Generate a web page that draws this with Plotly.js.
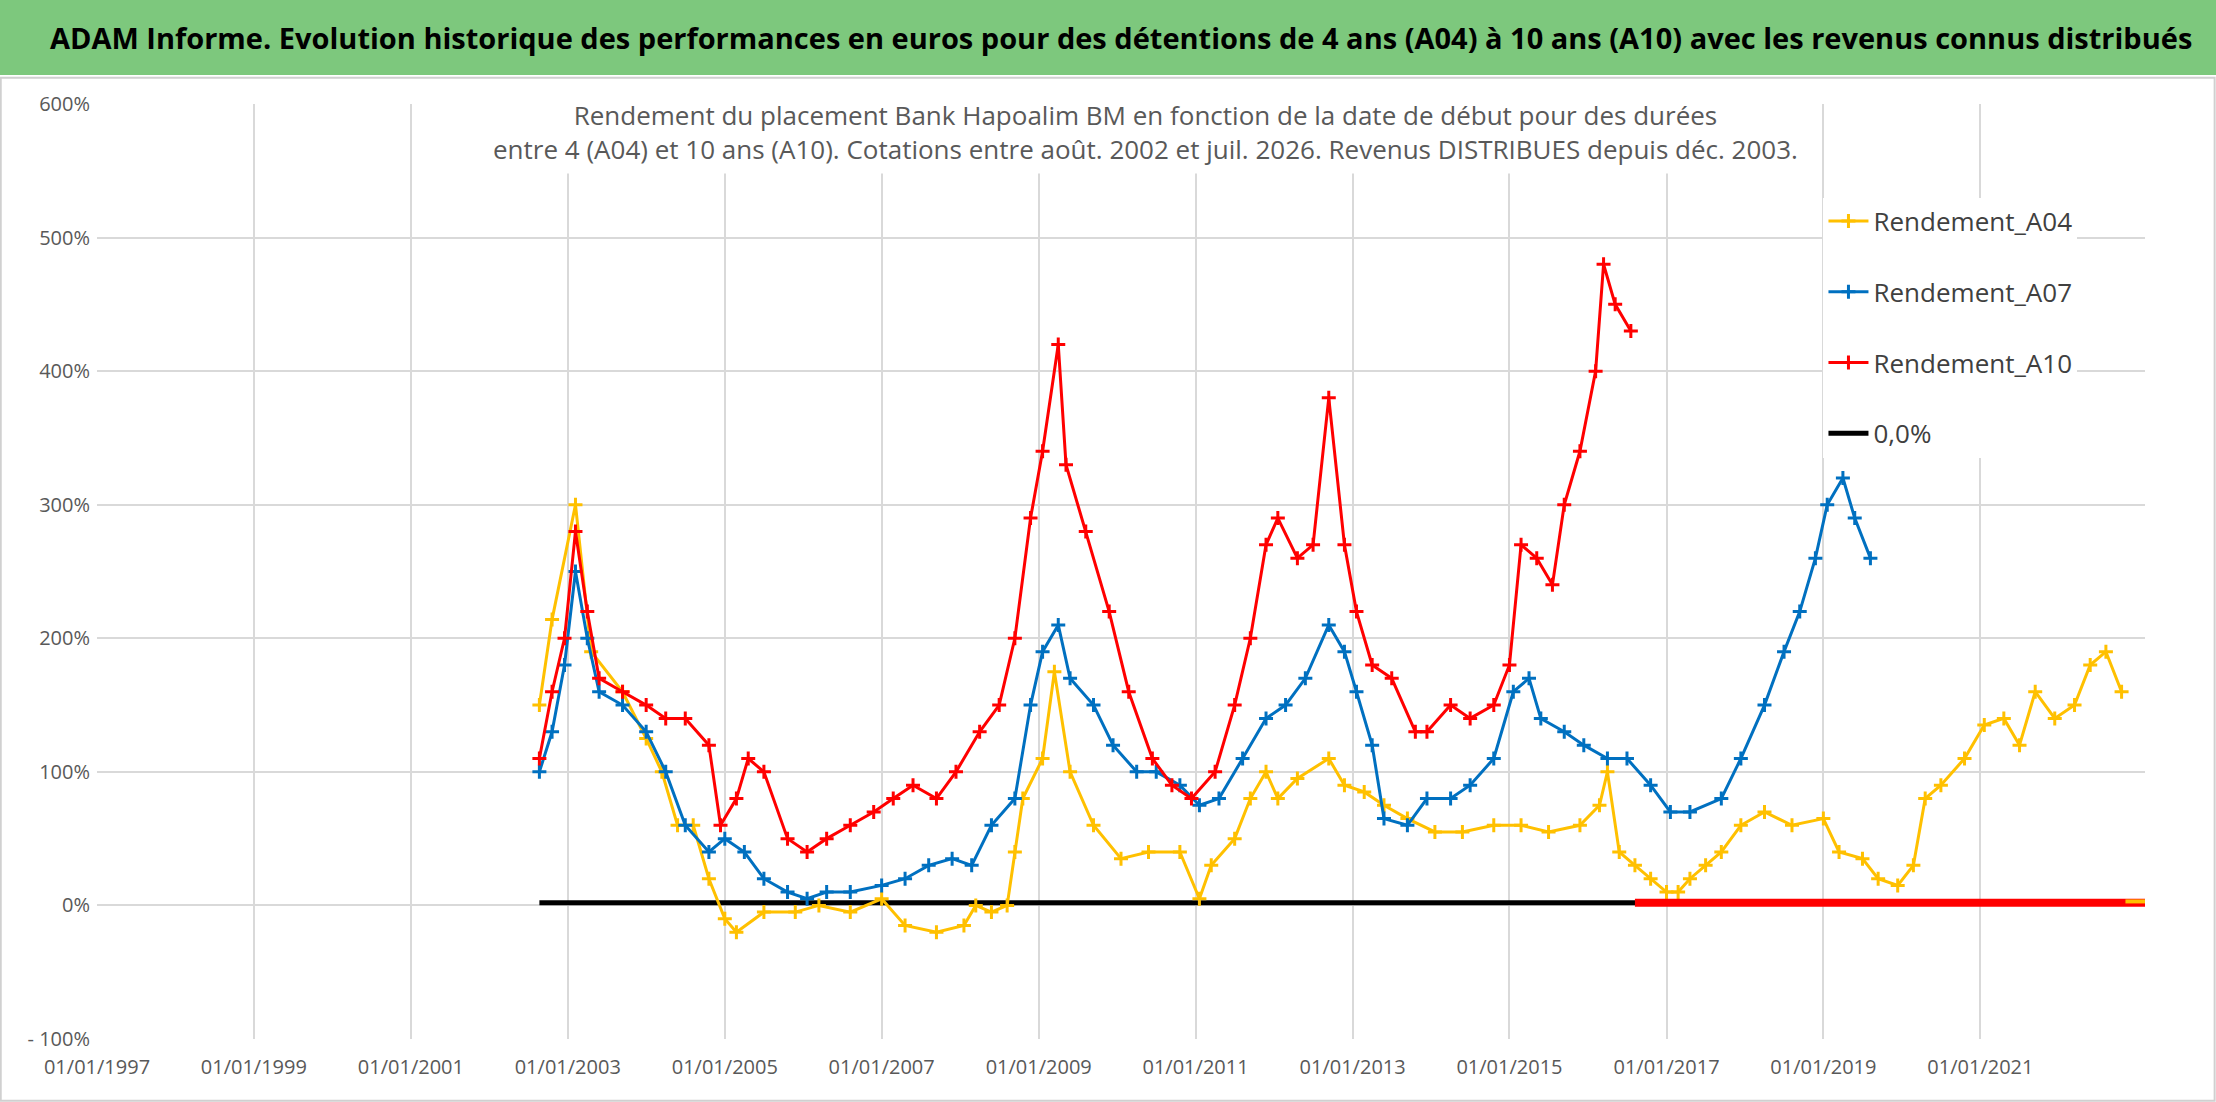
<!DOCTYPE html>
<html><head><meta charset="utf-8">
<script src="https://cdn.plot.ly/plotly-3.0.1.min.js"></script>
<style>body{margin:0;background:#fff}#c{width:2216px;height:1102px}</style>
</head><body><div id="c"></div>
<script>
const a04Years=[2002.64,2002.8,2003.1,2003.3,2003.7,2004.0,2004.2,2004.4,2004.6,2004.8,2005.0,2005.15,2005.5,2005.9,2006.2,2006.6,2007.0,2007.3,2007.7,2008.05,2008.2,2008.4,2008.6,2008.7,2008.8,2009.05,2009.2,2009.4,2009.7,2010.05,2010.4,2010.8,2011.05,2011.2,2011.5,2011.7,2011.9,2012.05,2012.3,2012.7,2012.9,2013.15,2013.4,2013.7,2014.05,2014.4,2014.8,2015.15,2015.5,2015.9,2016.15,2016.25,2016.4,2016.6,2016.8,2017.0,2017.15,2017.3,2017.5,2017.7,2017.95,2018.25,2018.6,2019.0,2019.2,2019.5,2019.7,2019.95,2020.15,2020.3,2020.5,2020.8,2021.05,2021.3,2021.5,2021.7,2021.95,2022.2,2022.4,2022.6,2022.8];
const a04Vals=[150,214,300,190,160,125,100,60,60,20,-10,-20,-5,-5,0,-5,5,-15,-20,-15,0,-5,0,40,80,110,175,100,60,35,40,40,5,30,50,80,100,80,95,110,90,85,75,65,55,55,60,60,55,60,75,100,40,30,20,10,10,20,30,40,60,70,60,65,40,35,20,15,30,80,90,110,135,140,120,160,140,150,180,190,160];
const a07Years=[2002.64,2002.8,2002.96,2003.1,2003.25,2003.4,2003.7,2004.0,2004.25,2004.5,2004.8,2005.0,2005.25,2005.5,2005.8,2006.05,2006.3,2006.6,2007.0,2007.3,2007.6,2007.9,2008.15,2008.4,2008.7,2008.9,2009.05,2009.25,2009.4,2009.7,2009.95,2010.25,2010.5,2010.8,2011.05,2011.3,2011.6,2011.9,2012.15,2012.4,2012.7,2012.9,2013.05,2013.25,2013.4,2013.7,2013.95,2014.25,2014.5,2014.8,2015.05,2015.25,2015.4,2015.7,2015.95,2016.25,2016.5,2016.8,2017.05,2017.3,2017.7,2017.95,2018.25,2018.5,2018.7,2018.9,2019.05,2019.25,2019.4,2019.6];
const a07Vals=[100,130,180,250,200,160,150,130,100,60,40,50,40,20,10,5,10,10,15,20,30,35,30,60,80,150,190,210,170,150,120,100,100,90,75,80,110,140,150,170,210,190,160,120,65,60,80,80,90,110,160,170,140,130,120,110,110,90,70,70,80,110,150,190,220,260,300,320,290,260];
const a10Years=[2002.64,2002.8,2002.96,2003.1,2003.25,2003.4,2003.7,2004.0,2004.25,2004.5,2004.8,2004.95,2005.15,2005.3,2005.5,2005.8,2006.05,2006.3,2006.6,2006.9,2007.15,2007.4,2007.7,2007.95,2008.25,2008.5,2008.7,2008.9,2009.05,2009.25,2009.35,2009.6,2009.9,2010.15,2010.45,2010.7,2010.95,2011.25,2011.5,2011.7,2011.9,2012.05,2012.3,2012.5,2012.7,2012.9,2013.05,2013.25,2013.5,2013.8,2013.95,2014.25,2014.5,2014.8,2015.0,2015.15,2015.35,2015.55,2015.7,2015.9,2016.1,2016.2,2016.35,2016.55];
const a10Vals=[110,160,200,280,220,170,160,150,140,140,120,60,80,110,100,50,40,50,60,70,80,90,80,100,130,150,200,290,340,420,330,280,220,160,110,90,80,100,150,200,270,290,260,270,380,270,220,180,170,130,130,150,140,150,180,270,260,240,300,340,400,480,450,430];
const zeroRedYears=[2016.6,2023.1];
const zeroYellowYears=[2022.85,2023.1];
const zeroLineYears=[2002.64,2023.1];
const yTicks=[-100,0,100,200,300,400,500,600];
const yTickText=['- 100%','0%','100%','200%','300%','400%','500%','600%'];
const xTickYears=[1997,1999,2001,2003,2005,2007,2009,2011,2013,2015,2017,2019,2021];

function toDate(y){const yr=Math.floor(y);const ms=Date.UTC(yr,0,1)+(y-yr)*365.25*86400000;return new Date(ms).toISOString().slice(0,10);}
const F='"Liberation Sans Narrow", "Open Sans", sans-serif';
function ser(name,years,vals,color,g){return {type:'scatter',mode:'lines+markers',name:name,legendgroup:g,
 x:years.map(toDate),y:vals,line:{color:color,width:3},marker:{symbol:'cross-thin',size:10,line:{color:color,width:3},color:color}};}
const traces=[
 {type:'scatter',mode:'lines',name:'0,0%',legendgroup:'d',x:zeroLineYears.map(toDate),y:[2,2],line:{color:'#000',width:5},legendrank:4},
 Object.assign(ser('Rendement_A04',a04Years,a04Vals,'#FFC000','a'),{legendrank:1}),
 Object.assign(ser('Rendement_A07',a07Years,a07Vals,'#0070C0','b'),{legendrank:2}),
 Object.assign(ser('Rendement_A10',a10Years,a10Vals,'#FF0000','c'),{legendrank:3}),
 {type:'scatter',mode:'lines',x:zeroRedYears.map(toDate),y:[2,2],line:{color:'#FF0000',width:8},showlegend:false},
 {type:'scatter',mode:'lines',x:zeroYellowYears.map(toDate),y:[3,3],line:{color:'#FFC000',width:4},showlegend:false}
];
const layout={width:2216,height:1102,paper_bgcolor:'#fff',plot_bgcolor:'#fff',
 margin:{l:97,r:71,t:104,b:63},font:{family:F,color:'#595959'},
 xaxis:{type:'date',range:[toDate(1997),toDate(2023.1)],tickvals:xTickYears.map(toDate),
  ticktext:xTickYears.map(y=>'01/01/'+y),showgrid:true,gridcolor:'#d9d9d9',gridwidth:2,zeroline:false,
  tickfont:{size:20,color:'#595959',family:F},ticks:'',showline:false,ticklabelstandoff:14},
 yaxis:{range:[-100,600],tickvals:yTicks,ticktext:yTickText,showgrid:true,gridcolor:'#d9d9d9',gridwidth:2,zeroline:false,
  tickfont:{size:20,color:'#595959',family:F},ticks:'',ticklabelstandoff:6},
 legend:{x:0.843,y:0.9,xanchor:'left',yanchor:'top',bgcolor:'#fff',font:{size:26,color:'#404040',family:F},tracegroupgap:34,itemwidth:40},
 shapes:[{type:'rect',xref:'paper',yref:'paper',x0:-0.06,x1:1.04,y0:1.031,y1:1.12,fillcolor:'#7DC87D',line:{width:0},layer:'below'},
  {type:'rect',xref:'paper',yref:'paper',x0:-0.047,x1:1.034,y0:-0.066,y1:1.028,fillcolor:'rgba(0,0,0,0)',line:{color:'#d0d0d0',width:2}}],
 annotations:[
  {xref:'paper',yref:'paper',x:0.5,y:1.071,xanchor:'center',yanchor:'middle',showarrow:false,
   text:'<b>ADAM Informe. Evolution historique des performances en euros pour des détentions de 4 ans (A04) à 10 ans (A10) avec les revenus connus distribués</b>',
   font:{size:29,color:'#000',family:F}},
  {xref:'paper',yref:'paper',x:0.512,y:0.97,xanchor:'center',yanchor:'middle',showarrow:false,bgcolor:'#fff',borderpad:6,
   text:'Rendement du placement Bank Hapoalim BM en fonction de la date de début pour des durées<br>entre 4 (A04) et 10 ans (A10). Cotations entre août. 2002 et juil. 2026. Revenus DISTRIBUES depuis déc. 2003.',
   font:{size:26,color:'#595959',family:F}}
 ]};
Plotly.newPlot('c',traces,layout,{displayModeBar:false});
</script></body></html>
